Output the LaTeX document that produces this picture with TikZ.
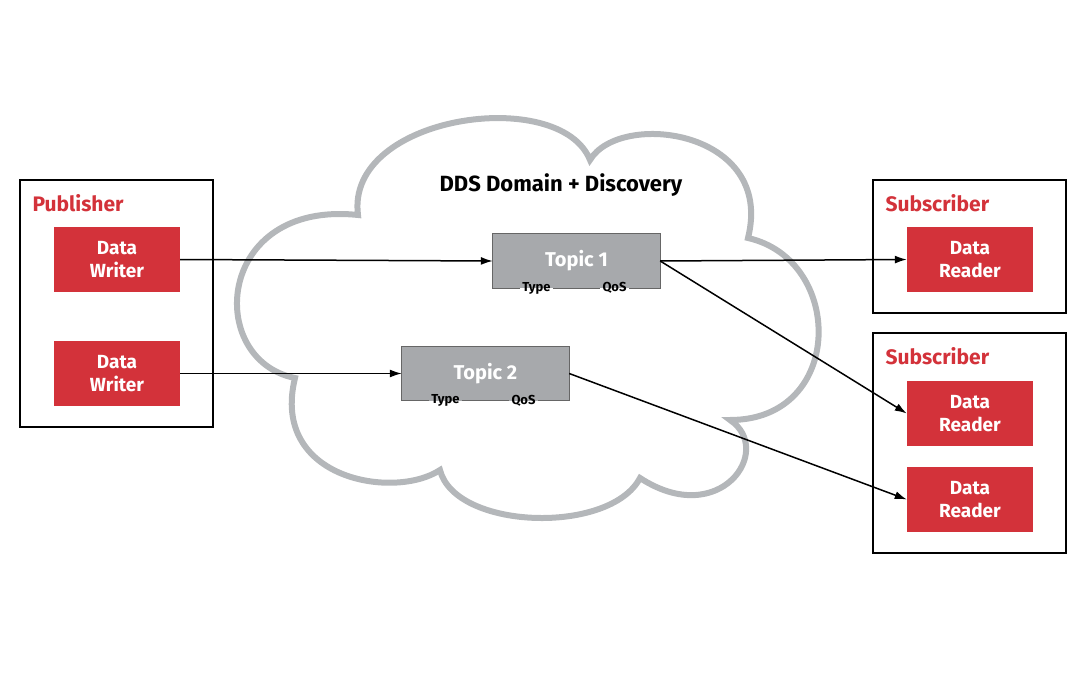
\documentclass[tikz,border=0pt]{standalone}
\usepackage{fontspec}
\setmainfont{Fira Sans}
\usetikzlibrary{arrows.meta}
\definecolor{ddsred}{HTML}{D3323A}
\definecolor{tgray}{HTML}{A7A9AC}
\definecolor{cgray}{HTML}{B4B7BA}
\begin{document}
\begin{tikzpicture}[x=1pt,y=-1pt,
  frame/.style={draw=black,line width=2.4pt},
  red/.style={fill=ddsred,text=white,font=\fontsize{19}{23}\selectfont\bfseries,align=center,minimum width=126pt,minimum height=65pt,inner sep=0pt},
  topic/.style={fill=tgray,text=white,font=\fontsize{20}{23}\selectfont\bfseries,minimum width=167pt,minimum height=54pt,inner sep=0pt},
  tlab/.style={font=\fontsize{13}{14}\selectfont\bfseries,inner sep=2pt},
  tb/.style={draw=black!60,line width=1pt},
  title/.style={text=ddsred,font=\fontsize{21}{24}\selectfont\bfseries,anchor=west},
  arr/.style={-{Latex[length=12pt,width=8pt]},line width=1.5pt}]
\useasboundingbox (0,0) rectangle (1080,674);
% cloud
\draw[cgray,line width=6pt] (358,215) .. controls (345,115) and (560,85) .. (590,160)
  .. controls (620,110) and (775,130) .. (748,238)
  .. controls (845,260) and (845,420) .. (730,420)
  .. controls (775,450) and (720,530) .. (640,478)
  .. controls (610,535) and (455,530) .. (440,470)
  .. controls (395,500) and (270,480) .. (295,378)
  .. controls (205,360) and (215,200) .. (358,215) -- cycle;
\node[font=\fontsize{22}{25}\selectfont\bfseries] (dds) at (561,185) {DDS Domain + Discovery};
% frames
\draw[frame] (20,180) rectangle (213,427);
\draw[frame] (873,180) rectangle (1066,313);
\draw[frame] (873,333) rectangle (1066,553);
\node[title] (pub) at (29,203) {Publisher};
\node[title] (sub1) at (882,203) {Subscriber};
\node[title] (sub2) at (882,356) {Subscriber};
\node[red] (w1) at (117,259.5) {Data\\Writer};
\node[red] (w2) at (117,373.5) {Data\\Writer};
\node[red] (r1) at (970,259.5) {Data\\Reader};
\node[red] (r2) at (970,413.5) {Data\\Reader};
\node[red] (r3) at (970,499.5) {Data\\Reader};
\node[topic] (t1) at (576.5,261) {Topic 1};
\node[topic] (t2) at (485.5,373.5) {Topic 2};
\node[tlab] (ty1) at ([xshift=-40pt]t1.south) {Type};
\node[tlab] (q1) at ([xshift=38pt]t1.south) {QoS};
\node[tlab] (ty2) at ([xshift=-40pt]t2.south) {Type};
\node[tlab] (q2) at ([xshift=38pt]t2.south) {QoS};
\draw[tb] (ty1.west|-t1.south) -- (t1.south west) -- (t1.north west) -- (t1.north east) -- (t1.south east) -- (q1.east|-t1.south);
\draw[tb] (ty1.east|-t1.south) -- (q1.west|-t1.south);
\draw[tb] (ty2.west|-t2.south) -- (t2.south west) -- (t2.north west) -- (t2.north east) -- (t2.south east) -- (q2.east|-t2.south);
\draw[tb] (ty2.east|-t2.south) -- (q2.west|-t2.south);
\draw[arr] (w1.east) -- (t1.west);
\draw[arr] (w2.east) -- (t2.west);
\draw[arr] (t1.east) -- (r1.west);
\draw[arr] (t1.east) -- (r2.west);
\draw[arr] (t2.east) -- (r3.west);
\end{tikzpicture}
\end{document}
